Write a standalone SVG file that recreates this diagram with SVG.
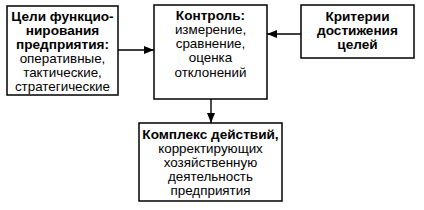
<svg xmlns="http://www.w3.org/2000/svg" width="424" height="210" viewBox="0 0 424 210">
<style>
.box{fill:#fff;stroke:#000;stroke-width:1.5}
text{font-family:"Liberation Sans",Arial,sans-serif;font-size:13.4px;fill:#000;text-anchor:middle}
.b{font-weight:bold;font-size:13.6px}
.c{stroke:#000;stroke-width:1.4;fill:none}
</style>
<defs>
<marker id="ah" markerWidth="10" markerHeight="8" refX="10" refY="4" orient="auto" markerUnits="userSpaceOnUse">
<path d="M0,0 L10,4 L0,8 Z" fill="#000"/>
</marker>
</defs>
<rect width="424" height="210" fill="#fff"/>
<g id="connectors">
<line class="c" x1="118" y1="50" x2="154" y2="50" marker-end="url(#ah)"/>
<line class="c" x1="301" y1="34" x2="267" y2="34" marker-end="url(#ah)"/>
<line class="c" x1="211" y1="99" x2="211" y2="123" marker-end="url(#ah)"/>
</g>
<g id="goals">
<rect class="box" x="7" y="6" width="111" height="89"/>
<text class="b" x="62.5" y="20.5">Цели функцио-</text>
<text class="b" x="62.5" y="34.5">нирования</text>
<text class="b" x="62.5" y="48.5">предприятия:</text>
<text x="62.5" y="63">оперативные,</text>
<text x="62.5" y="77">тактические,</text>
<text x="62.5" y="91">стратегические</text>
</g>
<g id="control">
<rect class="box" x="154" y="5" width="113" height="94"/>
<text class="b" x="210.5" y="20">Контроль:</text>
<text x="210.5" y="34">измерение,</text>
<text x="210.5" y="48">сравнение,</text>
<text x="210.5" y="62">оценка</text>
<text x="210.5" y="77">отклонений</text>
</g>
<g id="criteria">
<rect class="box" x="301" y="5" width="113" height="53"/>
<text class="b" x="357.5" y="21">Критерии</text>
<text class="b" x="357.5" y="35">достижения</text>
<text class="b" x="357.5" y="49">целей</text>
</g>
<g id="actions">
<rect class="box" x="139" y="123" width="143" height="78"/>
<text class="b" x="210.5" y="139">Комплекс действий,</text>
<text x="210.5" y="153">корректирующих</text>
<text x="210.5" y="166.5">хозяйственную</text>
<text x="210.5" y="180.5">деятельность</text>
<text x="210.5" y="194.5">предприятия</text>
</g>
</svg>
